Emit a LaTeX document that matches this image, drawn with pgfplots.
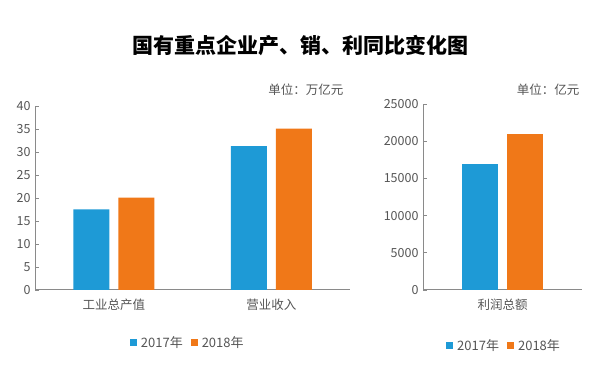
\documentclass[border=0pt]{standalone}
\usepackage{fontspec}
\setmainfont{Noto Sans CJK SC}
\usepackage{pgfplots}
\pgfplotsset{compat=1.18}
\definecolor{cblue}{HTML}{1E9AD6}
\definecolor{corange}{HTML}{F07818}
\definecolor{axgray}{HTML}{8A8A8A}
\definecolor{txtgray}{HTML}{555555}
\pgfplotsset{
  mystyle/.style={
    scale only axis,
    anchor=south west,
    axis x line*=bottom,
    axis y line*=left,
    axis line style={axgray, line width=1pt},
    ybar, bar width=36pt,
    ymin=0,
    xtick=data,
    xtick style={draw=none},
    ytick style={axgray, line width=0.8pt},
    tick align=inside,
    major tick length=4pt,
    tick label style={text=txtgray, font=\fontsize{12.5}{14}\selectfont},
    x tick label style={font=\fontsize{12.5}{14}\selectfont, yshift=-5pt},
    /pgf/number format/assume math mode=true,
    /pgf/number format/1000 sep={},
    yticklabel style={xshift=-1pt},
    legend columns=2,
    legend style={draw=none, fill=none, anchor=center,
      font=\fontsize{13}{15}\selectfont, text=txtgray,
      /tikz/every odd column/.append style={column sep=2pt},
      /tikz/every even column/.append style={column sep=6pt}},
    legend image code/.code={\fill[##1] (0pt,-3.5pt) rectangle (7pt,3.5pt);},
  }
}
\begin{document}
\begin{tikzpicture}
\path[use as bounding box] (0pt,0pt) rectangle (600pt,374pt);
\node[font=\fontsize{21}{24}\selectfont\bfseries] at (300pt,328pt) {国有重点企业产、销、利同比变化图};
\node[anchor=east, text=txtgray, font=\fontsize{12.5}{14}\selectfont] at (347pt,284pt) {单位：万亿元};
\node[anchor=east, text=txtgray, font=\fontsize{12.5}{14}\selectfont] at (583pt,284pt) {单位：亿元};
\begin{axis}[mystyle,
  at={(35pt,84pt)}, width=315pt, height=184pt,
  xmin=-0.5, xmax=1.5, ymax=40, ytick={0,5,...,40},
  xticklabels={工业总产值,营业收入},
  legend style={at={(0.485,-0.288)}},
]
\addplot[fill=cblue, draw=none, bar shift=-22.5pt] coordinates {(0,17.5) (1,31.3)};
\addplot[fill=corange, draw=none, bar shift=22.5pt] coordinates {(0,20.1) (1,35.1)};
\legend{2017年,2018年}
\end{axis}
\begin{axis}[mystyle,
  at={(423pt,84pt)}, width=159pt, height=186pt,
  xmin=-0.5, xmax=0.5, ymax=25000, ytick={0,5000,...,25000},
  scaled y ticks=false,
  xticklabels={利润总额},
  legend style={at={(0.51,-0.30)}},
]
\addplot[fill=cblue, draw=none, bar shift=-22.5pt] coordinates {(0,17000)};
\addplot[fill=corange, draw=none, bar shift=22.5pt] coordinates {(0,21000)};
\legend{2017年,2018年}
\end{axis}
\end{tikzpicture}
\end{document}
